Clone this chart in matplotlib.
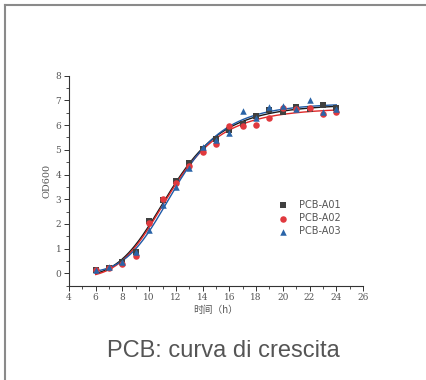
import numpy as np
import matplotlib
matplotlib.use("Agg")
import matplotlib.pyplot as plt
from matplotlib.lines import Line2D

# time points (h)
hours = [6, 7, 8, 9, 10, 11, 12, 13, 14, 15, 16, 17, 18, 19, 20, 21, 22, 23, 24]

# OD600 readings
od_a01 = [0.15, 0.22, 0.45, 0.88, 2.10, 2.97, 3.72, 4.45, 5.05, 5.45, 5.80, 6.05, 6.35, 6.60, 6.55, 6.75, 6.65, 6.80, 6.70]
od_a02 = [0.12, 0.20, 0.38, 0.70, 2.05, 3.00, 3.65, 4.35, 4.92, 5.25, 5.98, 5.95, 6.00, 6.30, 6.70, 6.65, 6.70, 6.45, 6.52]
od_a03 = [0.15, 0.25, 0.45, 0.85, 1.75, 2.75, 3.50, 4.25, 5.10, 5.40, 5.70, 6.58, 6.30, 6.75, 6.78, 6.65, 7.00, 6.55, 6.65]

series_names = ["PCB-A01", "PCB-A02", "PCB-A03"]
marker_col = ["#404040", "#e0393e", "#2a64a8"]
line_col = ["#1a1a1a", "#e02828", "#1f5aa6"]
markers = ["s", "o", "^"]


def logistic(p, x):
    # Origin style logistic: A2 + (A1 - A2) / (1 + (x/x0)^n)
    a1, a2, x0, n = p
    return a2 + (a1 - a2) / (1 + (x / x0) ** n)


def fit_logistic(x, y):
    # small Levenberg-Marquardt, enough for a growth curve
    x = np.asarray(x, float)
    y = np.asarray(y, float)
    p = np.array([0.0, y.max(), 12.0, 5.0])
    lam = 1e-3
    for _ in range(300):
        r = y - logistic(p, x)
        J = np.empty((len(x), 4))
        for k in range(4):
            dp = np.zeros(4)
            dp[k] = 1e-6 * max(1.0, abs(p[k]))
            J[:, k] = (logistic(p + dp, x) - logistic(p, x)) / dp[k]
        A = J.T @ J
        g = J.T @ r
        step = np.linalg.solve(A + lam * np.diag(np.diag(A)), g)
        newp = p + step
        if newp[2] > 0 and np.sum((y - logistic(newp, x)) ** 2) < np.sum(r ** 2):
            p = newp
            lam *= 0.3
        else:
            lam *= 10
    return p


fig = plt.figure(figsize=(4.27, 3.80), dpi=100)
ax = fig.add_axes([0.1616, 0.2482, 0.6885, 0.5526])

xs = np.linspace(hours[0], hours[-1], 300)
handles = []
for ys, name, mc, lc, mk in zip([od_a01, od_a02, od_a03], series_names, marker_col, line_col, markers):
    p = fit_logistic(hours, ys)
    ax.plot(xs, logistic(p, xs), color=lc, lw=1.0, zorder=2)
    h = ax.scatter(hours, ys, marker=mk, s=22, color=mc, linewidths=0, zorder=3, label=name)
    handles.append(h)

ax.set_xlim(4, 26)
ax.set_ylim(-0.5, 8)
ax.set_xticks(range(4, 27, 2))
ax.set_xticks(range(4, 27, 1), minor=True)
ax.set_yticks(range(0, 9))
ax.set_yticks(np.arange(-0.5, 8.01, 0.5), minor=True)

for s in ["top", "right"]:
    ax.spines[s].set_visible(False)
for s in ["left", "bottom"]:
    ax.spines[s].set_color("#333333")
    ax.spines[s].set_linewidth(0.8)

ax.tick_params(which="major", length=3.5, width=0.7, color="#333333", labelsize=6.5,
               labelcolor="#555555", pad=2)
ax.tick_params(which="minor", length=2, width=0.6, color="#333333")
for lbl in ax.get_xticklabels() + ax.get_yticklabels():
    lbl.set_family("DejaVu Serif")

ax.set_xlabel("时间（h）", family=["Noto Sans CJK SC", "DejaVu Sans"], fontsize=7,
              color="#555555", labelpad=2)
ax.set_ylabel("OD600", family="DejaVu Serif", fontsize=7, color="#555555", labelpad=3)

leg = ax.legend(handles=handles, loc="center left", bbox_to_anchor=(0.672, 0.322),
                frameon=False, fontsize=7, handletextpad=0.6, labelspacing=0.35,
                markerscale=1.0, borderpad=0.2)
for t in leg.get_texts():
    t.set_color("#555555")

fig.text(0.522, 0.076, "PCB: curva di crescita", ha="center", va="center",
         family="Liberation Sans", fontsize=17, color="#555555")

# frame lines (top and left edges of the card)
fig.add_artist(Line2D([5 / 427, 1], [1 - 5 / 380, 1 - 5 / 380], transform=fig.transFigure,
                      color="#8a8a8a", lw=1.5))
fig.add_artist(Line2D([5 / 427, 5 / 427], [0, 1 - 5 / 380], transform=fig.transFigure,
                      color="#8a8a8a", lw=1.5))

fig.savefig("out.png", dpi=100)
